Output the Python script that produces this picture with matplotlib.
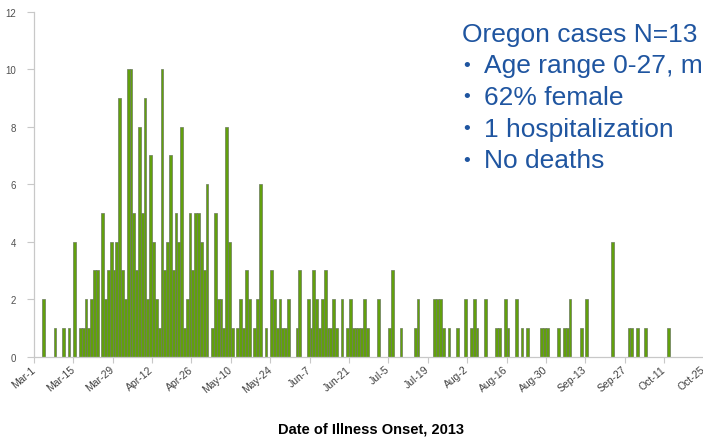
"""
Epi curve: daily case counts by date of illness onset, Mar-Oct 2013,
with the Oregon summary box in the upper right.
"""

import matplotlib

matplotlib.use("Agg")
import matplotlib.pyplot as plt
import matplotlib.transforms as mtransforms
import pandas as pd

start_date = "2013-03-01"
end_date = "2013-10-25"

# daily counts starting Mar-1, one row per two weeks
daily_cases = [
    0, 0, 0, 2, 0, 0, 0, 1, 0, 0, 1, 0, 1, 0,
    4, 0, 1, 1, 2, 1, 2, 3, 3, 0, 5, 2, 3, 4,
    3, 4, 9, 3, 2, 10, 10, 5, 3, 8, 5, 9, 2, 7,
    4, 2, 1, 10, 3, 4, 7, 3, 5, 4, 8, 1, 2, 5,
    3, 5, 5, 4, 3, 6, 0, 1, 5, 2, 2, 1, 8, 4,
    1, 0, 1, 2, 1, 3, 2, 0, 1, 2, 6, 0, 1, 0,
    3, 2, 1, 2, 1, 1, 2, 0, 0, 1, 3, 0, 0, 2,
    1, 3, 2, 1, 2, 3, 1, 1, 2, 1, 0, 2, 0, 1,
    2, 1, 1, 1, 1, 2, 1, 0, 0, 0, 2, 0, 0, 0,
    1, 3, 0, 0, 1, 0, 0, 0, 0, 1, 2, 0, 0, 0,
    0, 0, 2, 2, 2, 1, 0, 1, 0, 0, 1, 0, 0, 2,
    0, 1, 2, 1, 0, 0, 2, 0, 0, 0, 1, 1, 0, 2,
    1, 0, 0, 2, 0, 1, 0, 1, 0, 0, 0, 0, 1, 1,
    1, 0, 0, 0, 1, 0, 1, 1, 2, 0, 0, 0, 1, 0,
    2, 0, 0, 0, 0, 0, 0, 0, 0, 4, 0, 0, 0, 0,
    0, 1, 1, 0, 1, 0, 0, 1, 0, 0, 0, 0, 0, 0,
    0, 1, 0, 0, 0, 0, 0, 0, 0, 0, 0, 0, 0, 0,
]

y_ticks = [0, 2, 4, 6, 8, 10, 12]

box_title = "Oregon cases N=13"
box_items = [
    "Age range 0-27, m",
    "62% female",
    "1 hospitalization",
    "No deaths",
]

x_title = "Date of Illness Onset, 2013"


def main() -> None:
    plt.rcParams["font.family"] = ["Liberation Sans", "DejaVu Sans"]

    dates = pd.date_range(start_date, periods=len(daily_cases), freq="D")
    tick_dates = pd.date_range(start_date, end_date, freq="14D")

    fig = plt.figure(figsize=(7.03, 4.39), dpi=100)
    ax = fig.add_axes([0.0482, 0.1856, 0.9526, 0.7859])

    ax.bar(
        dates, daily_cases, width=1.0, align="edge",
        color="#62a00c", edgecolor="#6b7a5c", linewidth=0.5, zorder=2,
    )

    ax.set_xlim(pd.Timestamp(start_date), pd.Timestamp(end_date))
    ax.set_ylim(0, 12)
    ax.set_yticks(y_ticks)

    ax.set_xticks(tick_dates)
    ax.set_xticklabels([f"{d:%b}-{d.day}" for d in tick_dates])

    for side in ("top", "right"):
        ax.spines[side].set_visible(False)
    for side in ("left", "bottom"):
        ax.spines[side].set_color("#c8c8c8")
        ax.spines[side].set_linewidth(0.9)

    ax.tick_params(axis="y", length=5, width=0.8, color="#c8c8c8",
                   pad=8, labelsize=7, labelcolor="#505050")
    ax.tick_params(axis="x", length=4, width=0.8, color="#c8c8c8",
                   pad=4, labelsize=7.5, labelcolor="#404040")
    for lbl in ax.get_xticklabels():
        lbl.set_rotation(40)
        lbl.set_ha("right")
        lbl.set_va("center")
        lbl.set_rotation_mode("anchor")

    fig.text(0.528, 0.006, x_title, ha="center", va="bottom",
             fontsize=10.5, fontweight="bold", color="black")

    blue = "#1f55a0"
    fig.text(462 / 703, 1 - 42 / 439, box_title, ha="left", va="baseline",
             fontsize=19, color=blue)
    # bullets a little smaller and lifted towards the x-height centre
    lift = mtransforms.offset_copy(fig.transFigure, fig=fig, x=0, y=2.5,
                                   units="dots")
    for i, item in enumerate(box_items):
        y = 1 - (73.5 + 31.5 * i) / 439
        fig.text(463 / 703, y, "\u2022", ha="left", va="baseline",
                 fontsize=14, color=blue, transform=lift)
        fig.text(484 / 703, y, item, ha="left", va="baseline",
                 fontsize=19, color=blue)

    fig.savefig("out.png", dpi=100)


if __name__ == "__main__":
    main()
